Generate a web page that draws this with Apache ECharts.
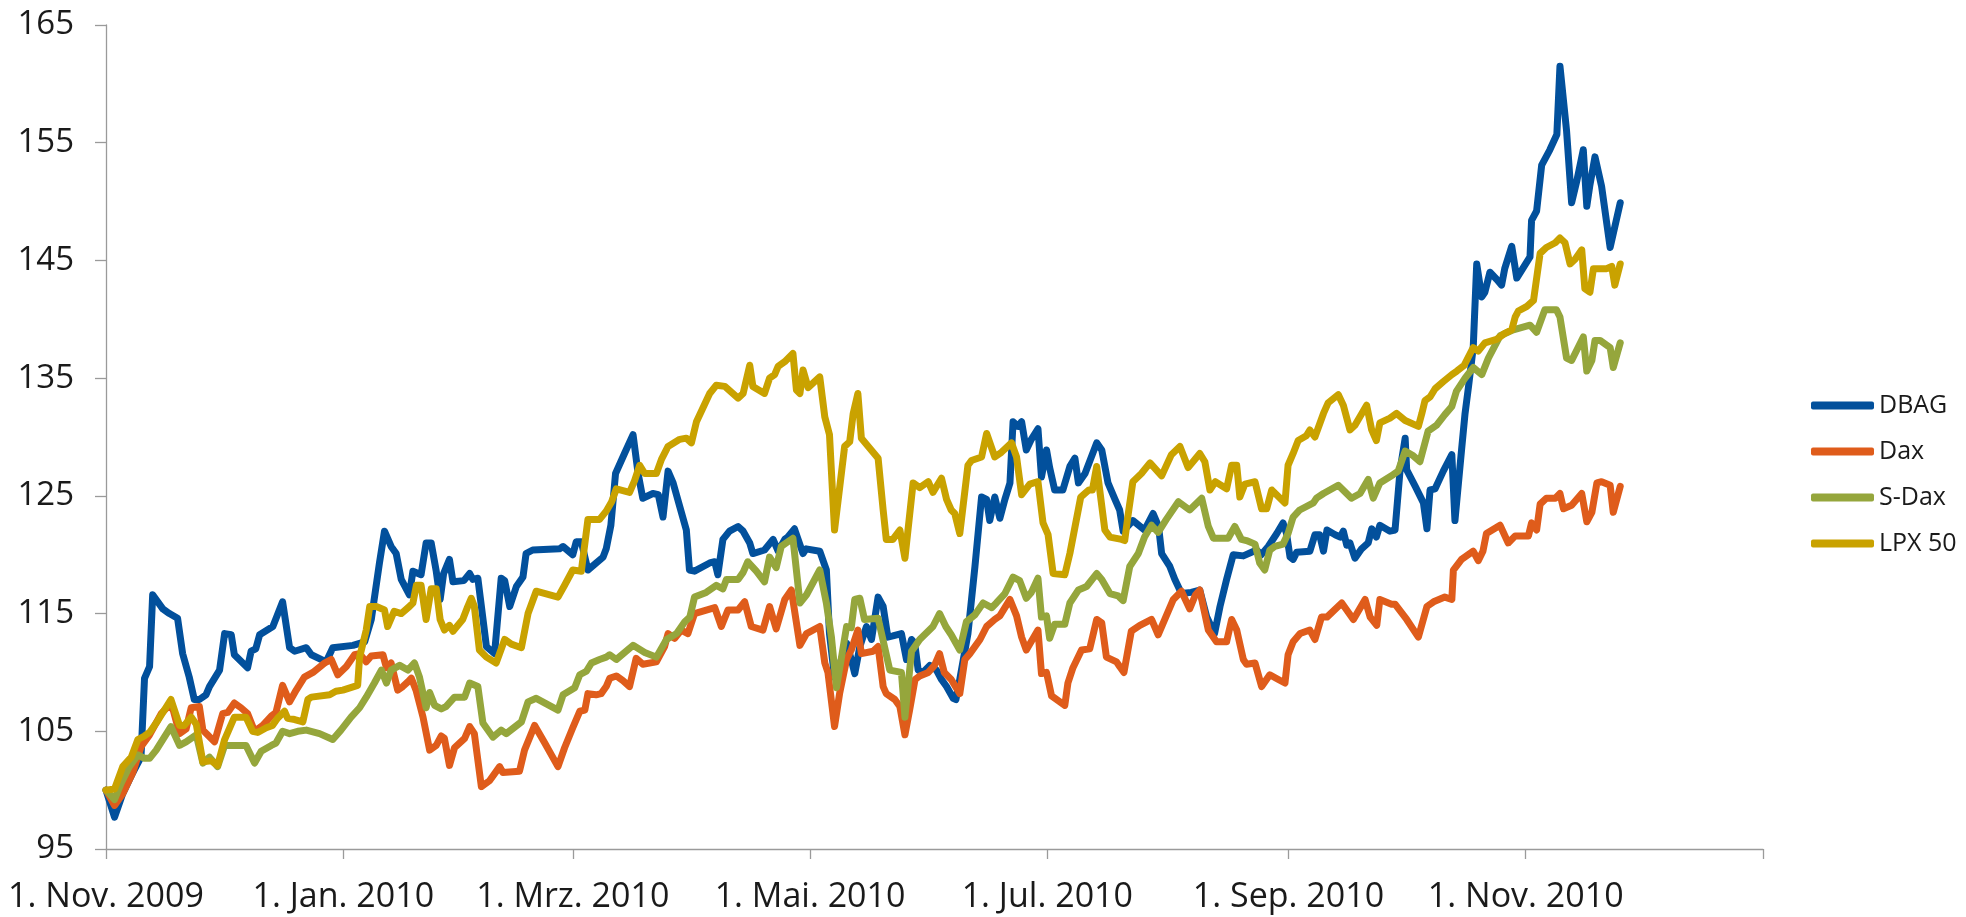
<!DOCTYPE html>
<html>
<head>
<meta charset="utf-8">
<title>DBAG vs. Dax, S-Dax, LPX 50</title>
<script src="https://cdn.jsdelivr.net/npm/echarts@6/dist/echarts.min.js"></script>
<style>
  html, body { margin: 0; padding: 0; background: #fff; }
  #chart { width: 1966px; height: 917px; }
</style>
</head>
<body>
<div id="chart"></div>
<script>
// x = Tage seit 1. Nov. 2009, y = Index (Start = 100)
const tickDays = [0, 61, 120, 181, 242, 304, 365, 426];
const tickLabels = ['1. Nov. 2009', '1. Jan. 2010', '1. Mrz. 2010', '1. Mai. 2010', '1. Jul. 2010', '1. Sep. 2010', '1. Nov. 2010', ''];
const seriesNames = ['DBAG', 'Dax', 'S-Dax', 'LPX 50'];
const seriesColors = ['#02509c', '#df5c1b', '#95a63c', '#c9a200'];

const dbag = [[0,100.0],[2.2,97.7],[4.3,99.7],[6.9,101.5],[9,102.8],[9.9,109.5],[11.2,110.5],[12,116.6],[14.6,115.4],[16.3,115.0],[18.4,114.6],[19.7,111.6],[21.4,109.6],[22.7,107.7],[24,107.7],[25.7,108.1],[26.6,108.8],[29.2,110.2],[30.5,113.3],[32.2,113.2],[33,111.5],[36.4,110.4],[37.3,111.8],[38.5,112],[39.5,113.2],[42.9,113.9],[45.4,116.0],[47.2,112.1],[48.5,111.8],[51.5,112.1],[52.8,111.5],[56.6,110.9],[58.3,112.1],[63.5,112.3],[66.5,112.6],[68.2,114.5],[70.3,119.3],[71.6,122.0],[73.3,120.7],[74.6,120.1],[75.9,117.9],[78,116.6],[78.9,118.6],[81,118.3],[82.3,121.0],[83.6,121.0],[84.9,118.6],[85.9,116.2],[86.8,118.4],[88.3,119.6],[89.2,117.7],[92,117.8],[93.5,118.4],[94.3,117.9],[95.6,118.0],[97.8,112.2],[99.9,111.6],[101.6,118.0],[102.5,117.8],[103.8,115.6],[105.5,117.3],[107.2,118.1],[108,120.1],[109.7,120.4],[116.6,120.5],[117.5,120.7],[120,120.0],[120.9,121.1],[122.2,121.1],[123.9,118.7],[127.8,119.8],[128.6,120.5],[129.8,122.5],[131,126.9],[133.3,128.6],[135.5,130.2],[136.8,126.9],[138,124.8],[140.6,125.2],[142,125.1],[143.2,123.2],[144.5,127.1],[145.8,126.1],[147.5,124.1],[149.2,122.1],[150,118.7],[151.3,118.6],[155.2,119.3],[156.5,119.4],[157.3,118.3],[158.6,121.3],[160.3,122.0],[162.5,122.4],[163.8,122.0],[165.5,121.0],[166.3,120.1],[169.3,120.4],[171.5,121.3],[172.8,120.3],[174.5,121.3],[175.3,121.5],[177,122.2],[179.2,120.1],[180,120.5],[183.5,120.3],[185.2,118.7],[186,113.3],[187.3,109.6],[188.2,110.2],[190.4,112.5],[191.6,111.1],[192.5,109.9],[193.8,112.2],[195.5,113.9],[196.8,112.8],[198.5,116.4],[199.8,115.6],[201,113.0],[202.3,113.1],[204.5,113.3],[205.8,111.1],[207.1,112.8],[207.9,112.5],[208.8,110.2],[210,110.0],[211.8,110.6],[213.5,110.2],[214.8,109.4],[216.1,108.8],[217.8,107.8],[218.5,107.7],[219.5,109.4],[221.6,113.3],[223.4,119.0],[225.1,124.9],[226.4,124.7],[227.2,122.9],[228.5,124.9],[229.8,123.1],[231.1,124.7],[232.4,126.1],[233.2,131.3],[234.5,130.9],[235.4,131.3],[236.6,128.9],[237.9,129.8],[239.6,130.7],[240.5,126.6],[241.8,128.9],[242.6,127.4],[243.9,125.5],[246,125.5],[247.8,127.5],[249.1,128.2],[250,126.1],[251.7,126.9],[254.7,129.5],[256,128.9],[257.6,126.1],[259.4,124.7],[260.6,123.8],[261.5,122.0],[264,122.9],[267,122.1],[269.2,123.5],[270.6,122.4],[271.4,120.1],[273.5,119.0],[274.8,117.9],[276.5,116.7],[279,116.8],[281.2,117.0],[283,114.7],[285,113.3],[286.4,115.6],[288.1,117.9],[289.8,120.0],[292.4,119.9],[295.8,120.4],[297,120.0],[298.8,120.7],[301,121.8],[302.6,122.7],[303.5,121.8],[304.4,119.8],[305.2,119.6],[306.1,120.2],[309.5,120.3],[310.8,121.7],[312,121.7],[313,120.3],[313.9,122.1],[316,121.7],[317.3,121.5],[318.1,122.0],[319,120.8],[319.8,121.0],[321.1,119.7],[322.8,120.5],[324.5,121.0],[325.4,122.2],[326.6,121.5],[327.5,122.5],[330.1,122.0],[331.4,122.1],[332.7,127.2],[334,129.9],[334.4,127.2],[336.6,125.8],[338.7,124.4],[339.6,122.2],[340.4,125.5],[341.7,125.6],[343.8,127.1],[346,128.5],[346.8,122.9],[348.5,128.9],[349.4,132.0],[350.3,134.3],[351.5,137.6],[352.4,144.7],[353.7,141.9],[354.5,142.3],[355.8,144.0],[357.5,143.4],[358.8,142.9],[359.6,144.3],[361.4,146.2],[362.7,143.5],[366.1,145.3],[366.5,148.4],[367.8,149.2],[369.1,153.1],[371.2,154.4],[373,155.7],[373.8,161.5],[375.5,156.0],[376.8,149.9],[378.1,151.7],[379.8,154.4],[380.7,149.6],[381.5,151.4],[382.8,153.8],[384.5,151.3],[386.7,146.1],[389.3,149.9]];

const dax = [[0,100.0],[2.2,98.7],[4.3,99.7],[6.9,101.5],[9,103.7],[11.2,104.7],[14.2,106.5],[15.9,107.1],[17.2,106.9],[18.9,104.8],[20.6,105.2],[21.9,107.0],[24,107.1],[24.9,105.1],[26.1,104.7],[27.9,104.1],[30,106.5],[31.3,106.6],[33,107.4],[34.7,107.0],[36.4,106.5],[38.2,105.0],[40.3,105.5],[42.5,106.3],[43.7,106.6],[45.4,108.9],[47.2,107.5],[48.9,108.5],[51,109.6],[53.2,110.0],[56.2,110.8],[57.9,111.1],[59.6,109.8],[61.8,110.5],[63.9,111.5],[65.2,111.6],[66.9,110.9],[68.2,111.4],[71.2,111.5],[72.1,110.4],[73.3,110.8],[75,108.5],[76.3,108.8],[77.6,109.2],[78.5,109.5],[79.7,108.5],[81.5,106.2],[83.2,103.4],[84.9,103.8],[86.2,104.6],[87,104.4],[88.3,102.1],[89.6,103.6],[92.2,104.4],[93.5,105.4],[94.7,104.8],[96.5,100.3],[98.6,100.8],[101.2,102.0],[102,101.5],[106.3,101.6],[107.6,103.4],[110.2,105.5],[112.8,104.0],[116.2,102.0],[117.9,103.6],[120,105.3],[121.8,106.7],[123.1,106.8],[123.9,108.2],[126,108.1],[127.3,108.2],[128.6,108.8],[129.5,109.5],[131.2,109.7],[132.9,109.3],[134.6,108.8],[136.3,111.2],[138,110.7],[141.5,110.9],[143.6,112.2],[144.5,113.3],[146.2,112.9],[147.9,113.6],[149.6,113.3],[151.3,115.0],[156.5,115.5],[158.2,113.9],[159.9,115.3],[162.5,115.3],[164.2,116.0],[165.9,113.9],[168.9,113.6],[170.6,115.6],[172.3,113.7],[174.5,116.2],[176.2,117.0],[178.4,112.3],[180.1,113.3],[183.5,113.9],[184.8,110.8],[185.6,110.0],[187.3,105.4],[188.6,108.2],[190.4,111.1],[191.6,111.9],[193.3,113.6],[194.2,111.6],[197.2,111.8],[198.5,112.2],[199.8,108.8],[200.6,108.2],[202.8,107.7],[204.1,107.1],[205.4,104.7],[206.6,106.8],[208,109.4],[209.2,109.7],[211.4,110.0],[213,110.6],[214.3,111.6],[215.5,110.0],[217.3,109.4],[219.5,108.2],[220.8,111.1],[222.1,111.6],[224.7,112.8],[226.4,113.9],[228.5,114.5],[229.8,114.8],[232.4,116.2],[234.1,114.8],[235.4,113.0],[236.6,111.9],[239.6,113.6],[240.5,109.9],[241.8,110.0],[243.1,108.0],[246.5,107.2],[247.3,109.1],[248.6,110.4],[250.8,111.9],[252.9,112.0],[254.7,114.5],[256,114.2],[257.2,111.3],[259.8,110.9],[260.6,110.5],[261.7,110.0],[263.6,113.5],[265.8,114.0],[268.8,114.5],[270.5,113.2],[272.2,114.5],[274.4,116.2],[276.5,116.9],[278.6,115.4],[280.1,116.6],[281.2,117.0],[283.4,113.6],[285.5,112.6],[288.1,112.6],[289.4,114.5],[290.7,113.6],[292.4,111.1],[293.2,110.7],[295.4,110.8],[297.1,108.8],[299.2,109.8],[301.4,109.4],[303.1,109.1],[303.9,111.5],[305.2,112.6],[307,113.3],[309.5,113.6],[310.8,112.8],[312.5,114.7],[313.9,114.7],[317.7,115.9],[320.7,114.5],[323.7,116.2],[325,114.7],[326.7,114.0],[327.5,116.2],[330.5,115.8],[331.4,115.8],[334.4,114.5],[337.4,113.0],[339.6,115.6],[341.3,116.0],[344.2,116.4],[346,116.2],[346.4,118.7],[348.5,119.6],[351.5,120.3],[352.8,119.5],[354,120.3],[354.9,121.8],[358.4,122.5],[360.5,121.0],[362.3,121.6],[365.7,121.6],[366.5,122.7],[367.8,122.1],[368.7,124.3],[370.3,124.8],[372.6,124.8],[373.8,125.2],[374.7,123.9],[376.8,124.2],[379.4,125.2],[380.7,122.8],[382,123.6],[383.3,126.1],[384.5,126.2],[386.7,125.9],[387.5,123.6],[389.3,125.8]];

const sdax = [[0,100.0],[2.2,99.2],[3.9,100.6],[6,102.0],[8.2,103.0],[9.9,102.7],[11.2,102.7],[12.9,103.4],[16.7,105.4],[18.9,103.8],[20.6,104.1],[23.2,104.7],[24.9,102.3],[26.6,102.8],[28.7,102.0],[30.5,103.8],[36,103.8],[38.2,102.3],[39.9,103.3],[42.5,103.8],[43.7,104.0],[45.4,105.0],[47.2,104.8],[49.3,105.0],[51.5,105.1],[54.9,104.8],[58.3,104.3],[60.4,105.1],[63,106.2],[65.2,107.0],[66.9,107.9],[69,109.1],[70.8,110.2],[72.1,109.1],[73.3,110.2],[75.5,110.6],[77.6,110.2],[79.3,110.8],[80.6,109.6],[82.3,107.0],[83.2,108.3],[84.5,107.2],[86.2,106.9],[87.4,107.1],[89.6,107.9],[92.2,107.9],[93.5,109.1],[95.6,108.8],[96.9,105.7],[99.5,104.5],[101.6,105.1],[102.9,104.8],[106.8,105.8],[108.5,107.5],[110.6,107.8],[116.2,106.8],[117.5,108.1],[120.5,108.7],[121.8,109.8],[123.5,110.1],[124.8,110.8],[126.9,111.1],[128.6,111.3],[129.5,111.5],[131.2,111.1],[135.5,112.3],[138.5,111.7],[141.5,111.3],[144.1,112.8],[146.7,113.3],[148.8,114.3],[150.1,114.7],[151.3,116.4],[154.3,116.8],[156.9,117.4],[158.6,117.1],[159.5,117.9],[162.5,117.9],[163.8,118.5],[165,119.4],[167.2,118.6],[169.3,117.7],[170.6,119.8],[172.3,118.9],[173.6,120.7],[176.6,121.4],[178.4,115.9],[180.1,116.6],[183.5,118.7],[185.2,115.9],[186.5,113.0],[187.8,108.7],[190.4,113.9],[191.6,113.8],[192.5,116.2],[193.8,116.3],[195,114.5],[198.5,114.6],[201.5,110.2],[204.5,110.0],[205.4,106.2],[207.1,111.8],[209.2,112.8],[212.6,113.9],[214.3,115.0],[215.9,113.9],[217.3,113.2],[219.5,111.9],[221.2,114.3],[223.4,114.9],[225.5,115.9],[227.7,115.5],[228.9,115.9],[231.1,116.7],[233.2,118.1],[234.9,117.8],[236.6,116.3],[237.9,116.8],[239.6,118.0],[240.5,114.7],[241.8,114.8],[242.6,112.9],[243.9,114.1],[246.5,114.1],[247.8,115.9],[250,117.0],[252.1,117.3],[254.7,118.4],[256,117.9],[258.1,116.7],[260.2,116.5],[261.5,116.1],[263.2,119.0],[265.4,120.1],[267,121.5],[268.8,122.5],[270.5,121.9],[272.6,123.0],[275.7,124.5],[278.6,123.8],[281.7,124.8],[283.4,122.4],[284.7,121.4],[288.5,121.4],[290.2,122.4],[291.9,121.3],[293.2,121.2],[295.4,120.9],[296.6,119.3],[297.9,118.7],[299.2,120.4],[300.5,120.7],[302.6,120.9],[303.9,121.8],[305.2,123.2],[306.9,123.8],[310.4,124.4],[311.2,124.8],[313,125.2],[316.8,125.9],[320.2,124.8],[322.4,125.2],[324.5,126.4],[325.8,124.8],[327.5,126.1],[330.9,126.8],[332.2,127.1],[334,128.8],[336.1,128.4],[337.8,127.9],[339.9,130.5],[342.1,131.0],[344.2,131.9],[346,132.6],[347.2,133.9],[349.4,135.0],[351.5,135.9],[353.7,135.3],[355.4,136.7],[358.4,138.6],[361.8,139.1],[366.1,139.5],[367.8,138.9],[369.9,140.8],[372.9,140.8],[373.8,140.2],[375.5,136.7],[376.8,136.5],[379.8,138.5],[380.7,135.6],[382,136.5],[382.8,138.2],[384.1,138.2],[386.7,137.6],[387.5,135.9],[389.3,138.0]];

const lpx50 = [[0,100.0],[2.2,100.1],[4.3,102.0],[6.5,102.8],[8.2,104.3],[9.9,104.6],[11.2,104.9],[13.3,105.9],[16.7,107.7],[18.9,105.5],[20.1,105.5],[21.9,106.2],[23.2,105.6],[24.9,102.4],[27,102.5],[28.7,102.1],[30.5,104.3],[33,106.2],[36,106.2],[37.7,105.0],[39,104.9],[41.2,105.3],[42.8,105.5],[44.1,106.1],[45.9,106.7],[46.7,106.1],[48.5,106.0],[50.6,105.8],[51.9,107.7],[52.8,107.9],[57.5,108.1],[59.1,108.4],[60.9,108.5],[64.7,108.9],[65.2,111.3],[66.9,113.6],[67.8,115.6],[69.5,115.6],[71.6,115.3],[72.4,113.9],[74.1,115.2],[75.9,115.0],[78,115.6],[78.9,115.9],[79.8,117.4],[81,117.4],[82.3,114.5],[83.6,117.1],[84.9,117.1],[85.9,114.5],[87,113.6],[88.3,114.0],[89.2,113.5],[91.7,114.5],[93,115.6],[93.9,116.3],[94.7,115.6],[96,111.9],[97.8,111.3],[100.3,110.8],[102.5,112.8],[104.2,112.4],[106.8,112.1],[108.5,115.0],[110.6,116.9],[116.2,116.4],[117.9,117.4],[120,118.7],[122.2,118.6],[123.9,123.0],[126.9,123.0],[128.6,123.7],[130,124.5],[131.2,125.6],[134.6,125.3],[135.9,126.3],[137.2,127.6],[138.5,126.9],[141.5,126.9],[142.8,128.1],[144.5,129.2],[147.5,129.8],[149.2,129.9],[150.5,129.5],[151.8,131.3],[155.2,133.7],[156.9,134.4],[159.1,134.3],[162.5,133.3],[163.8,133.7],[165.5,136.1],[166.3,134.3],[169.3,133.7],[170.6,135.0],[171.9,135.3],[172.8,136.0],[174.5,136.4],[176.6,137.1],[177.5,134.0],[178.4,133.7],[179.2,135.7],[180.5,134.2],[183.5,135.1],[184.8,131.7],[186,130.2],[187.3,122.1],[189.9,129.2],[191.2,129.6],[192.1,132.0],[193.3,133.7],[194.2,129.9],[198.5,128.2],[199.8,123.8],[200.6,121.3],[202.3,121.3],[204.1,122.1],[205.4,119.7],[207.5,126.1],[209.2,125.7],[211.4,126.2],[212.6,125.3],[214.8,126.5],[216.1,124.7],[217.3,123.8],[218.2,123.5],[219.5,121.8],[221.6,127.6],[222.5,128.0],[225.1,128.3],[226.4,130.3],[228.5,128.3],[230.2,128.7],[232.8,129.5],[234.1,128.3],[235.4,125.1],[237.5,126.0],[239.6,126.2],[240.9,122.7],[242.2,121.7],[243.5,118.4],[246.5,118.3],[247.8,120.1],[250.6,124.9],[252.7,125.5],[253.6,125.5],[254.7,127.5],[256.8,122.1],[258.1,121.5],[261.1,121.3],[261.9,121.2],[262.7,123.2],[264,126.2],[266.2,126.9],[268.4,127.8],[271.4,126.7],[273.9,128.5],[276.1,129.2],[278.2,127.4],[281.2,128.6],[282.5,127.9],[283.8,125.5],[285.2,126.2],[288.1,125.6],[289.4,127.6],[290.7,127.6],[291.5,124.9],[292.8,126.0],[295.4,126.2],[297.1,123.9],[298.4,123.9],[299.7,125.5],[303.1,124.4],[303.9,127.6],[305.2,128.6],[306.5,129.7],[308.6,130.1],[309.5,130.6],[310.8,130.0],[313,132.0],[314.2,132.9],[316.8,133.6],[318.1,132.7],[319.8,130.6],[321.1,131.0],[324.1,132.7],[325.4,130.6],[326.6,129.7],[327.5,131.2],[330.1,131.6],[331.8,132.0],[334,131.4],[337.4,130.9],[338.3,132.0],[339.1,133.1],[340.4,133.4],[341.7,134.1],[343.8,134.7],[346,135.3],[347.3,135.6],[349.2,136.1],[351.5,137.6],[352.8,137.3],[354.5,138.0],[357.5,138.3],[359.6,138.8],[361.4,139.1],[362.3,140.2],[363.1,140.7],[365.3,141.1],[367,141.6],[368.7,145.6],[370.3,146.1],[372.6,146.5],[373.8,146.9],[375.1,146.5],[376.4,144.7],[377.7,145.1],[379.4,145.9],[380.2,142.6],[381.5,142.3],[382.4,144.3],[385.8,144.3],[387.1,144.5],[387.9,142.9],[389.3,144.7]];

const seriesData = [dbag, dax, sdax, lpx50];

const chart = echarts.init(document.getElementById('chart'));

const labelFont = '"Open Sans", "Noto Sans", sans-serif';

const option = {
    animation: false,
    color: seriesColors,
    grid: { left: 106, right: 203, top: 25, bottom: 68 },
    legend: {
        orient: 'vertical',
        left: 1806,
        top: 388,
        itemWidth: 63,
        itemHeight: 8,
        itemGap: 21,
        icon: 'roundRect',
        data: seriesNames,
        textStyle: { fontFamily: labelFont, fontSize: 25, color: '#1a1a1a', lineHeight: 25 }
    },
    xAxis: {
        type: 'value',
        min: tickDays[0],
        max: tickDays[tickDays.length - 1],
        axisLine: { lineStyle: { color: '#9a9a9a', width: 1.3 } },
        axisTick: { length: 10, customValues: tickDays, lineStyle: { color: '#9a9a9a', width: 1.3 } },
        splitLine: { show: false },
        axisLabel: {
            customValues: tickDays.slice(0, -1),
            margin: 31,
            fontFamily: labelFont,
            fontSize: 34,
            color: '#1a1a1a',
            formatter: function (v) {
                const i = tickDays.indexOf(v);
                return i >= 0 ? tickLabels[i] : '';
            }
        }
    },
    yAxis: {
        type: 'value',
        min: 95,
        max: 165,
        interval: 10,
        axisLine: { show: true, lineStyle: { color: '#9a9a9a', width: 1.3 } },
        axisTick: { show: true, length: 11, lineStyle: { color: '#9a9a9a', width: 1.3 } },
        splitLine: { show: false },
        axisLabel: { margin: 32, fontFamily: labelFont, fontSize: 33, color: '#1a1a1a' }
    },
    series: seriesNames.map(function (name, i) {
        return {
            name: name,
            type: 'line',
            data: seriesData[i],
            showSymbol: false,
            symbol: 'none',
            lineStyle: { width: 7, cap: 'round', join: 'round' }
        };
    })
};

chart.setOption(option);
</script>
</body>
</html>
